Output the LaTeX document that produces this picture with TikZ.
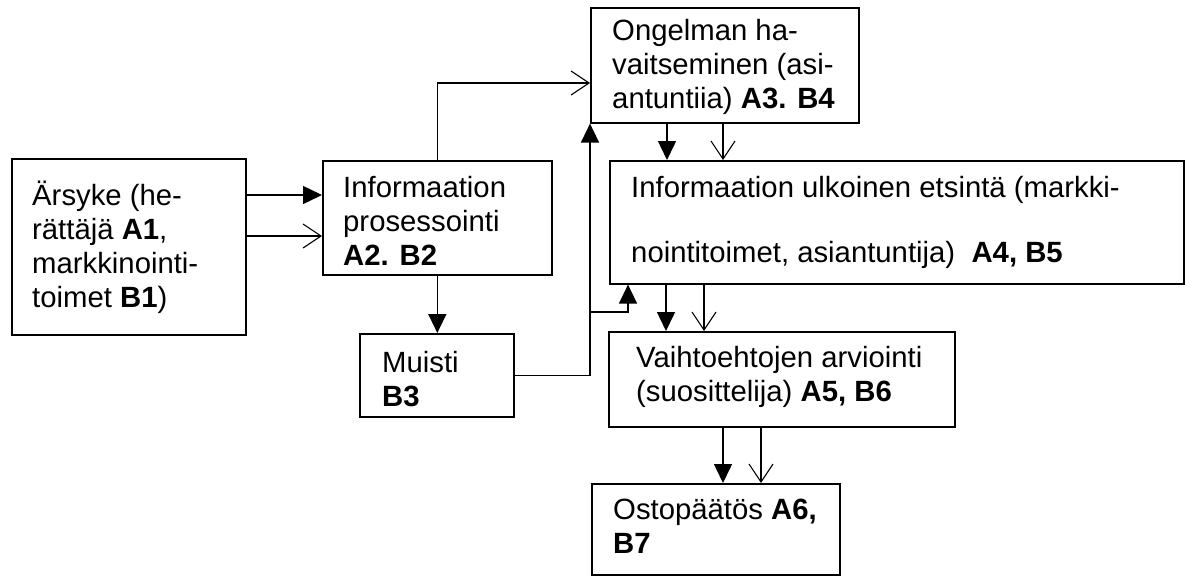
\documentclass[tikz,border=0pt]{standalone}
\usepackage{fontspec}
\setmainfont{Liberation Sans}
\usetikzlibrary{arrows.meta}
\begin{document}
\begin{tikzpicture}[x=1pt,y=-1pt,
  box/.style={draw, line width=1.6pt, rectangle, inner sep=0pt, anchor=north west},
  txt/.style={anchor=west, align=left, inner sep=0pt, font=\fontsize{29.3}{34}\selectfont},
  farrow/.style={line width=1.5pt, -{Triangle[length=19pt,width=18pt]}},
  oarrow/.style={line width=1.1pt, -{Straight Barb[length=18pt,width=24pt,line width=1.1pt]}}]
\useasboundingbox (0,0) rectangle (1185,576);
% boxes
\node[box, minimum width=234pt, minimum height=176pt] (b1) at (11,158) {};
\node[box, minimum width=229pt, minimum height=114pt] (b2) at (322,160) {};
\node[box, minimum width=268pt, minimum height=115pt] (b3) at (590,7) {};
\node[box, minimum width=574pt, minimum height=123pt] (b4) at (609,160) {};
\node[box, minimum width=154pt, minimum height=83pt] (mu) at (359,333) {};
\node[box, minimum width=346pt, minimum height=95pt] (b5) at (608,331) {};
\node[box, minimum width=248pt, minimum height=91pt] (b6) at (591,483) {};
% texts
\node[txt] (t1) at ([xshift=21pt]b1.west) {Ärsyke (he-\\rättäjä \textbf{A1},\\markkinointi-\\toimet \textbf{B1})};
\node[txt] (t2) at ([xshift=21pt,yshift=-3pt]b2.west) {Informaation\\prosessointi\\\textbf{A2. B2}};
\node[txt] (t3) at ([xshift=22pt,yshift=-2pt]b3.west) {Ongelman ha-\\vaitseminen (asi-\\antuntiia) \textbf{A3. B4}};
\node[txt, font=\fontsize{29.3}{65}\selectfont] (t4) at ([xshift=22pt]b4.west) {Informaation ulkoinen etsintä (markki-\\nointitoimet, asiantuntija)\ \ \textbf{A4, B5}};
\node[txt] (tm) at ([xshift=23pt,yshift=-4pt]mu.west) {Muisti\\\textbf{B3}};
\node[txt] (t5) at ([xshift=28pt,yshift=2pt]b5.west) {Vaihtoehtojen arviointi\\(suosittelija) \textbf{A5, B6}};
\node[txt] (t6) at ([xshift=22pt,yshift=3pt]b6.west) {Ostopäätös \textbf{A6,}\\\textbf{B7}};
% helper levels
\coordinate (y195) at (0,195);
\coordinate (y236) at (0,236);
\coordinate (y83) at (0,83);
\coordinate (j) at (590,312);
\coordinate (x628) at (628,0);
\coordinate (x667) at (667,0);
\coordinate (x723) at (723,0);
\coordinate (x666) at (666,0);
\coordinate (x704) at (704,0);
\coordinate (x761) at (761,0);
% connectors
\draw[farrow] (b1.east |- y195) -- (b2.west |- y195);
\draw[oarrow] (b1.east |- y236) -- (b2.west |- y236);
\draw[oarrow] (b2.north) |- (b3.west |- y83);
\draw[farrow] (b2.south) -- (b2.south |- mu.north);
\draw[farrow] (mu.east) -| (b3.south west);
\draw[farrow] (j) -| (x628 |- b4.south);
\draw[farrow] (x667 |- b3.south) -- (x667 |- b4.north);
\draw[oarrow] (x723 |- b3.south) -- (x723 |- b4.north);
\draw[farrow] (x666 |- b4.south) -- (x666 |- b5.north);
\draw[oarrow] (x704 |- b4.south) -- (x704 |- b5.north);
\draw[farrow] (x723 |- b5.south) -- (x723 |- b6.north);
\draw[oarrow] (x761 |- b5.south) -- (x761 |- b6.north);
\end{tikzpicture}
\end{document}
